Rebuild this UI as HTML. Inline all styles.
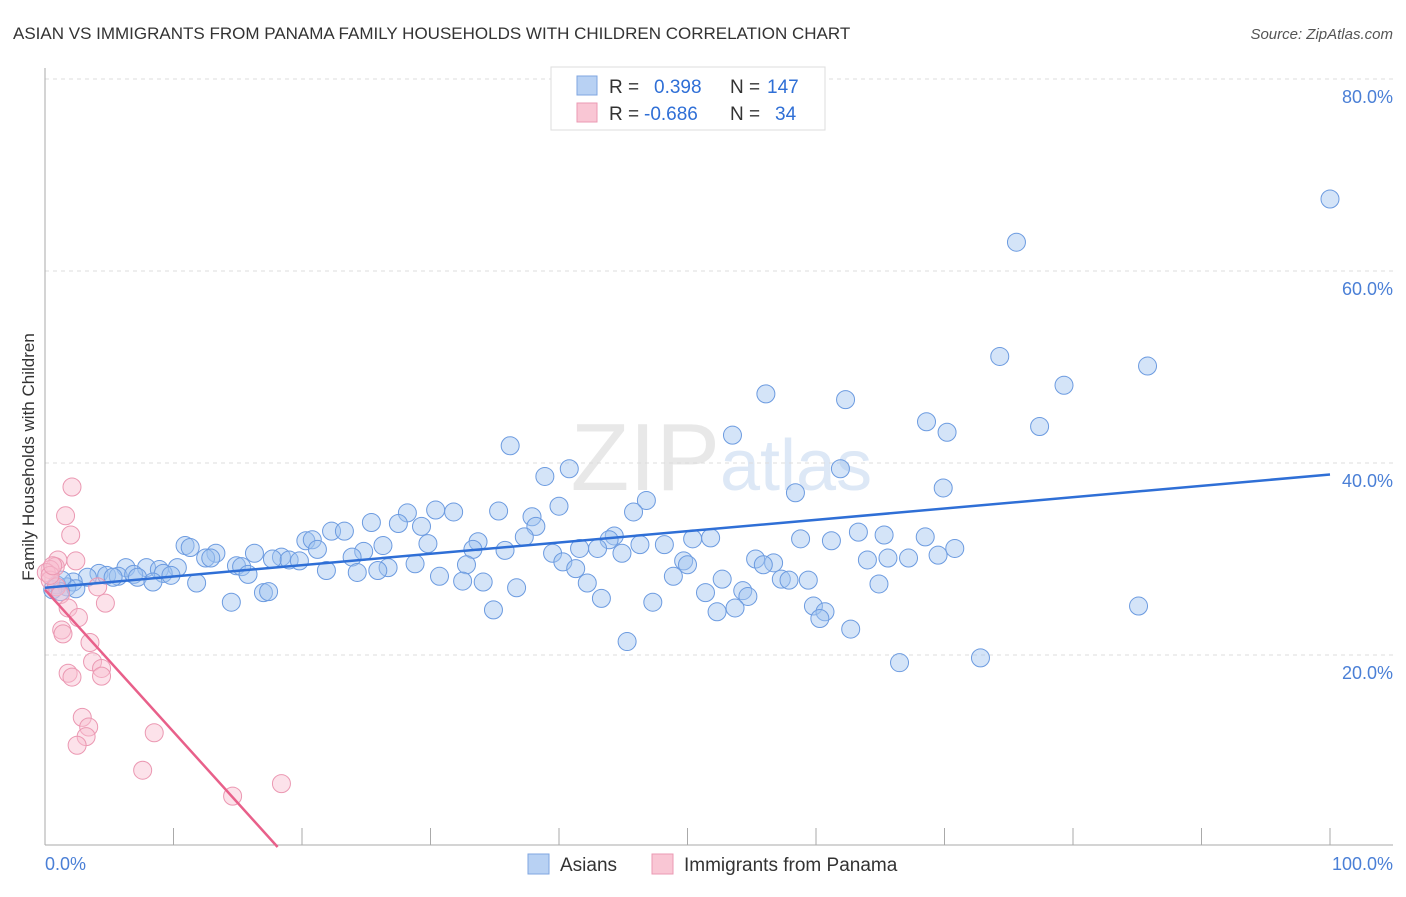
<!DOCTYPE html>
<html><head><meta charset="utf-8"><style>
body{margin:0;background:#fff;font-family:"Liberation Sans",sans-serif}
svg text{font-family:"Liberation Sans",sans-serif}
</style></head><body>
<svg width="1406" height="892">
<text x="13" y="39" font-size="17" fill="#333">ASIAN VS IMMIGRANTS FROM PANAMA FAMILY HOUSEHOLDS WITH CHILDREN CORRELATION CHART</text>
<text x="1393" y="39" font-size="15" fill="#555" font-style="italic" text-anchor="end">Source: ZipAtlas.com</text>
<text x="720" y="490" font-size="96" fill="#e8e8e8" text-anchor="end" font-family="Liberation Serif">ZIP</text>
<text x="720" y="490" font-size="72" fill="#dde8f6">atlas</text>
<g id="grid"></g>
<g id="axes"></g>
<text transform="translate(34,457) rotate(-90)" font-size="17" fill="#333" text-anchor="middle">Family Households with Children</text>
<g id="blue"></g><g id="pink"></g><g id="lines"></g>
<g>
<rect x="551" y="67" width="274" height="63" fill="#fff" stroke="#ddd"/>
<rect x="577" y="76" width="20" height="19" fill="#b8d1f3" stroke="#7fa6e0"/>
<rect x="577" y="103" width="20" height="19" fill="#f9c6d4" stroke="#eb9ab3"/>
<text x="609" y="93" font-size="19" fill="#333">R = <tspan fill="#2f6fd6" x="654">0.398</tspan><tspan fill="#333" x="730">N = </tspan><tspan fill="#2f6fd6" x="767">147</tspan></text>
<text x="609" y="120" font-size="19" fill="#333">R = <tspan fill="#2f6fd6" x="644">-0.686</tspan><tspan fill="#333" x="730">N = </tspan><tspan fill="#2f6fd6" x="775">34</tspan></text>
</g>
<g>
<rect x="528" y="854" width="21" height="20" fill="#b8d1f3" stroke="#7fa6e0"/>
<text x="560" y="871" font-size="19" fill="#333">Asians</text>
<rect x="652" y="854" width="21" height="20" fill="#f9c6d4" stroke="#eb9ab3"/>
<text x="684" y="871" font-size="19" fill="#333">Immigrants from Panama</text>
</g>
</svg>
<script>
const yTicks=[20,40,60,80];
const xTickLabels=["0.0%","100.0%"];
const blueX=[100,75.6,74.3,85.8,79.3,56.1,62.3,68.6,70.2,77.4,53.5,36.2,61.9,40.8,38.9,58.4,69.9,46.8,40.0,45.8,30.4,31.8,28.2,35.3,37.9,25.4,27.5,29.3,22.3,23.3,38.2,20.3,33.7,26.3,20.8,44.3,37.3,63.3,65.3,50.4,51.8,68.5,58.8,61.2,48.2,46.3,43.9,10.9,11.3,29.8,21.2,33.3,35.8,41.6,43.0,70.8,13.3,16.3,24.8,18.4,39.5,44.9,69.5,12.5,17.7,19.0,19.8,12.9,23.9,28.8,55.3,65.6,67.2,64.0,56.7,49.7,55.9,40.3,32.8,50.0,14.9,15.3,6.3,7.9,8.9,10.3,41.3,21.9,26.7,4.2,4.8,5.7,6.9,7.2,9.2,9.8,15.8,24.3,25.9,3.3,5.3,8.4,30.7,48.9,57.3,57.9,59.4,52.7,32.5,34.1,11.8,42.2,64.9,36.7,2.2,1.7,0.9,1.3,2.4,0.6,1.2,54.3,51.4,54.7,17.0,17.4,43.3,14.5,47.3,85.1,59.8,52.3,53.7,34.9,60.7,60.3,62.7,45.3,66.5,72.8];
const blueY=[67.5,63.0,51.1,50.1,48.1,47.2,46.6,44.3,43.2,43.8,42.9,41.8,39.4,39.4,38.6,36.9,37.4,36.1,35.5,34.9,35.1,34.9,34.8,35.0,34.4,33.8,33.7,33.4,32.9,32.9,33.4,31.9,31.8,31.4,32.0,32.4,32.3,32.8,32.5,32.1,32.2,32.3,32.1,31.9,31.5,31.5,32.0,31.4,31.2,31.6,31.0,31.0,30.9,31.1,31.1,31.1,30.6,30.6,30.8,30.2,30.6,30.6,30.4,30.1,30.0,29.9,29.8,30.1,30.2,29.5,30.0,30.1,30.1,29.9,29.6,29.8,29.4,29.7,29.4,29.4,29.3,29.2,29.1,29.1,28.9,29.1,29.0,28.8,29.1,28.5,28.3,28.2,28.4,28.1,28.5,28.3,28.4,28.6,28.8,28.1,28.1,27.6,28.2,28.2,27.9,27.8,27.8,27.9,27.7,27.6,27.5,27.5,27.4,27.0,27.6,27.1,27.3,27.8,26.9,26.8,26.6,26.7,26.5,26.1,26.5,26.6,25.9,25.5,25.5,25.1,25.1,24.5,24.9,24.7,24.5,23.8,22.7,21.4,19.2,19.7];
const pinkX=[2.1,1.6,2.0,1.0,2.4,0.8,0.4,0.1,0.4,0.9,4.1,1.2,4.7,1.8,2.6,1.3,1.4,3.5,3.7,1.8,2.1,4.4,4.4,2.9,3.4,3.2,2.5,8.5,7.6,14.6,18.4,0.4,0.6];
const pinkY=[37.5,34.5,32.5,29.9,29.8,29.2,28.9,28.6,27.8,27.1,27.1,26.3,25.4,24.9,23.9,22.6,22.2,21.3,19.3,18.1,17.7,18.6,17.8,13.5,12.5,11.5,10.6,11.9,8.0,5.3,6.6,28.3,29.3];
const blueTrend=[27.0,38.8]; // y at x=0, x=100
const pinkTrend=[26.8,0,18.1]; // y at x=0, y reached, x where reached
const NS="http://www.w3.org/2000/svg";
const X=v=>45+v*12.85, Y=v=>847-v*9.6;
function mk(t,a,p){const e=document.createElementNS(NS,t);for(const k in a)e.setAttribute(k,a[k]);p.appendChild(e);return e;}
const grid=document.getElementById('grid'),axes=document.getElementById('axes');
yTicks.forEach(t=>{
 const l=mk('line',{x1:45,x2:1393,y1:Y(t),y2:Y(t),stroke:'#ddd','stroke-dasharray':'4,4'},grid);
 
 
 const tx=mk('text',{x:1393,y:Y(t)+24,'font-size':18,fill:'#4a7fd6','text-anchor':'end'},grid);
 tx.textContent=t.toFixed(1)+'%';
 
 
});
const xa=mk('line',{x1:45,x2:1393,y1:845,y2:845,stroke:'#aaa'},axes);


const ya=mk('line',{x1:45,x2:45,y1:68,y2:845,stroke:'#aaa'},axes);


for(let i=1;i<=10;i++){const t=mk('line',{x1:X(i*10),x2:X(i*10),y1:828,y2:845,stroke:'#aaa'},axes);
 
 }
xTickLabels.forEach((s,i)=>{const t=mk('text',{x:i?1393:45,y:870,'font-size':18,fill:'#4a7fd6','text-anchor':i?'end':'start'},axes);t.textContent=s;
 
 });
const bg=document.getElementById('blue');
blueX.forEach((x,i)=>{const c=mk('circle',{cx:X(x),cy:Y(blueY[i]),r:9,fill:'rgba(160,195,240,0.45)',stroke:'#6c9be0','stroke-width':1},bg);
 
 });
const pg=document.getElementById('pink');
pinkX.forEach((x,i)=>{const c=mk('circle',{cx:X(x),cy:Y(pinkY[i]),r:9,fill:'rgba(248,190,208,0.45)',stroke:'#eb98b2','stroke-width':1},pg);
 
 });
const lg=document.getElementById('lines');
const b=mk('line',{x1:X(0),y1:Y(blueTrend[0]),x2:X(100),y2:Y(blueTrend[1]),stroke:'#2f6fd6','stroke-width':2.5},lg);


const p=mk('line',{x1:X(0),y1:Y(pinkTrend[0]),x2:X(pinkTrend[2]),y2:Y(pinkTrend[1]),stroke:'#e8608a','stroke-width':2.5},lg);


</script>
</body></html>
